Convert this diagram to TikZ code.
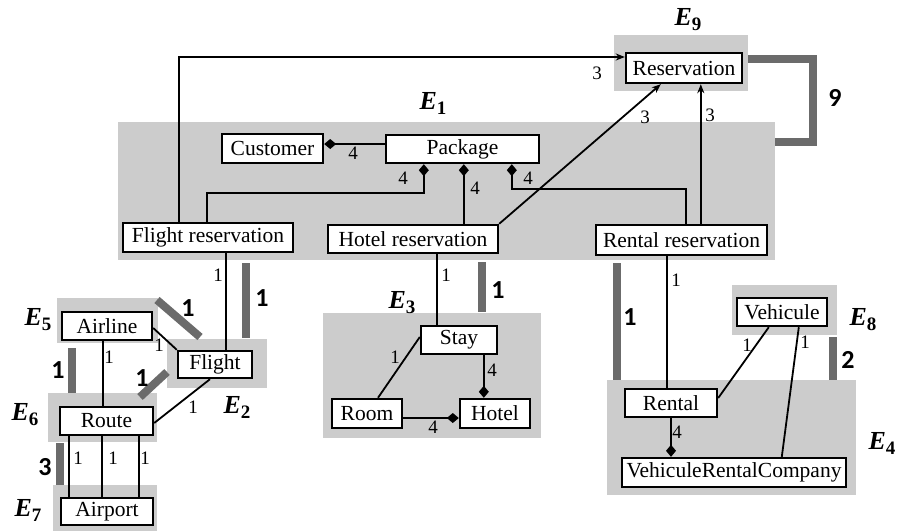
\documentclass[tikz,border=0pt]{standalone}
\usepackage{fontspec}
\setmainfont{Liberation Serif}
\newfontfamily\numfont{Carlito}
\usetikzlibrary{arrows.meta}
\definecolor{regiongray}{HTML}{CCCCCC}
\definecolor{bargray}{HTML}{6B6B6B}
\newcommand\Elab[1]{{\fontsize{26}{28}\selectfont\bfseries\itshape E}\raisebox{-5pt}{\fontsize{19}{20}\selectfont\bfseries #1}}
\begin{document}
\begin{tikzpicture}[x=1pt,y=-1pt,
 cls/.style={draw=black,line width=2.4pt,fill=white,inner sep=0pt,font=\fontsize{21.5}{24}\selectfont},
 region/.style={fill=regiongray},
 conn/.style={line width=1.8pt},
 bar/.style={draw=bargray,line width=8pt},
 mult/.style={font=\fontsize{19}{20}\selectfont,inner sep=0pt},
 bignum/.style={font=\numfont\bfseries\fontsize{26}{28}\selectfont,inner sep=0pt},
 elab/.style={inner sep=0pt},
 comp/.style={{Diamond[length=12pt,width=10pt]}-},
 nav/.style={-{Stealth[length=9pt,width=7pt]}},
]
\fill[white] (0,0) rectangle (897,531);
\useasboundingbox (0,0) rectangle (897,531);
% regions
\fill[region] (118,122) rectangle (775,260);
\fill[region] (614,35) rectangle (748,91);
\fill[region] (57,298) rectangle (158,343);
\fill[region] (167,339) rectangle (267,388);
\fill[region] (48,393) rectangle (157,442);
\fill[region] (53,485) rectangle (157,531);
\fill[region] (323,313) rectangle (541,438);
\fill[region] (732,285) rectangle (837,335);
\fill[region] (607,380) rectangle (856,495);
% bars
\draw[bar,line join=miter] (748,58.5) -- (813,58.5) -- (813,142) -- (775,142);
\draw[bar] (246,263) -- (246,338);
\draw[bar] (157,300) -- (200,337);
\draw[bar] (72,348) -- (72,393);
\draw[bar] (140,397) -- (167,372);
\draw[bar] (60,443) -- (60,485);
\draw[bar] (482,262) -- (482,312);
\draw[bar] (617,263) -- (617,380);
\draw[bar] (833,337) -- (833,380);
% boxes
\node[cls,minimum width=116pt,minimum height=30pt] (res) at (684,68) {Reservation};
\node[cls,minimum width=101pt,minimum height=29pt] (cust) at (272.5,148.5) {Customer};
\node[cls,minimum width=153pt,minimum height=28pt] (pkg) at (462.5,149) {Package};
\node[cls,minimum width=170pt,minimum height=29pt] (fres) at (208,237.5) {Flight reservation};
\node[cls,minimum width=170pt,minimum height=28pt] (hres) at (413,239) {Hotel reservation};
\node[cls,minimum width=171pt,minimum height=30pt] (rres) at (681.5,240) {Rental reservation};
\node[cls,minimum width=90pt,minimum height=28pt] (airline) at (107,326) {Airline};
\node[cls,minimum width=74pt,minimum height=27pt] (flight) at (215,364.5) {Flight};
\node[cls,minimum width=93pt,minimum height=28pt] (route) at (106.5,421) {Route};
\node[cls,minimum width=92pt,minimum height=27pt] (airport) at (107,511.5) {Airport};
\node[cls,minimum width=76pt,minimum height=28pt] (stay) at (459,340) {Stay};
\node[cls,minimum width=70pt,minimum height=29pt] (room) at (367,413.5) {Room};
\node[cls,minimum width=70pt,minimum height=29pt] (hotel) at (495,413.5) {Hotel};
\node[cls,minimum width=90pt,minimum height=28pt] (veh) at (782,312) {Vehicule};
\node[cls,minimum width=92pt,minimum height=28pt] (rental) at (671,403) {Rental};
\node[cls,minimum width=224pt,minimum height=29pt] (vrc) at (734,472.5) {VehiculeRentalCompany};
% helper coordinates
\coordinate (c1) at (180,57);
\coordinate (c2) at (0,144);
\coordinate (p1) at ([xshift=39pt]pkg.south west);
\coordinate (p2) at ([xshift=79pt]pkg.south west);
\coordinate (p3) at ([xshift=127pt]pkg.south west);
\coordinate (p4) at ([xshift=76pt]res.south west);
\coordinate (p5) at ([xshift=104pt]fres.south west);
\coordinate (p6) at ([xshift=-4pt]airline.south);
\coordinate (q1) at ([xshift=10pt]route.south west);
\coordinate (q2) at ([xshift=43pt]route.south west);
\coordinate (q3) at ([xshift=80pt]route.south west);
\coordinate (p7) at ([xshift=110pt]hres.south west);
\coordinate (p8) at ([xshift=64pt]stay.south west);
\coordinate (c3) at ([yshift=-4.5pt]room.east);
\coordinate (p9) at ([xshift=72pt]rres.south west);
\coordinate (p0) at ([xshift=57pt]fres.north west);
% connectors
\draw[conn,nav] (p0) |- (res.west |- c1);
\draw[conn,comp] (cust.east |- c2) -- (pkg.west |- c2);
\draw[conn,comp] (p1) -- ++(0,29) -| ([xshift=85pt]fres.north west);
\draw[conn,comp] (p2) -- (p2 |- hres.north);
\draw[conn,comp] (p3) -- ++(0,25) -| ([xshift=91pt]rres.north west);
\draw[conn,nav] (hres.north east) -- ([xshift=36pt]res.south west);
\draw[conn,nav] (p4 |- rres.north) -- (p4);
\draw[conn] (p5) -- (p5 |- flight.north);
\draw[conn] ([yshift=-2pt]airline.east) -- (flight.north west);
\draw[conn] (p6) -- (p6 |- route.north);
\draw[conn] ([xshift=-5pt]flight.south) -- ([yshift=-2pt]route.east);
\draw[conn] (q1) -- (q1 |- airport.north);
\draw[conn] (q2) -- (q2 |- airport.north);
\draw[conn] (q3) -- (q3 |- airport.north);
\draw[conn] (p7) -- (p7 |- stay.north);
\draw[conn] ([yshift=3pt]stay.west) -- ([xshift=11pt]room.north);
\draw[conn,comp] (p8 |- hotel.north) -- (p8);
\draw[conn,comp] (hotel.west |- c3) -- (room.east |- c3);
\draw[conn] (p9) -- (p9 |- rental.north);
\draw[conn] ([xshift=33pt]veh.south west) -- ([yshift=5pt]rental.east);
\draw[conn] ([xshift=63pt]veh.south west) -- ([xshift=161pt]vrc.north west);
\draw[conn,comp] (rental.south |- vrc.north) -- (rental.south);
% multiplicities
\node[mult] (m1) at (597,73) {3};
\node[mult] (m2) at (353,153) {4};
\node[mult] (m3) at (403,178) {4};
\node[mult] (m4) at (475,188) {4};
\node[mult] (m5) at (528,178) {4};
\node[mult] (m6) at (645,117) {3};
\node[mult] (m7) at (710,115) {3};
\node[mult] (m8) at (218,275) {1};
\node[mult] (m9) at (159,345) {1};
\node[mult] (m10) at (109,357) {1};
\node[mult] (m11) at (193,407) {1};
\node[mult] (m12) at (78,458) {1};
\node[mult] (m13) at (113,458) {1};
\node[mult] (m14) at (145,458) {1};
\node[mult] (m15) at (446,275) {1};
\node[mult] (m16) at (395,357) {1};
\node[mult] (m17) at (492,370) {4};
\node[mult] (m18) at (433,427) {4};
\node[mult] (m19) at (676,280) {1};
\node[mult] (m20) at (747,345) {1};
\node[mult] (m21) at (805,342) {1};
\node[mult] (m22) at (677,432) {4};
% bar numbers
\node[bignum] (b1) at (835,98) {9};
\node[bignum] (b2) at (262,298) {1};
\node[bignum] (b3) at (188,308) {1};
\node[bignum] (b4) at (58,370) {1};
\node[bignum] (b5) at (142,378) {1};
\node[bignum] (b6) at (45,467) {3};
\node[bignum] (b7) at (498,290) {1};
\node[bignum] (b8) at (630,317) {1};
\node[bignum] (b9) at (848,360) {2};
% E labels
\node[elab] (e9) at (688,20) {\Elab{9}};
\node[elab] (e1) at (433,103) {\Elab{1}};
\node[elab] (e5) at (38,320) {\Elab{5}};
\node[elab] (e6) at (25,415) {\Elab{6}};
\node[elab] (e7) at (28,510) {\Elab{7}};
\node[elab] (e2) at (237,407) {\Elab{2}};
\node[elab] (e3) at (402,303) {\Elab{3}};
\node[elab] (e8) at (863,320) {\Elab{8}};
\node[elab] (e4) at (882,443) {\Elab{4}};
\end{tikzpicture}
\end{document}
